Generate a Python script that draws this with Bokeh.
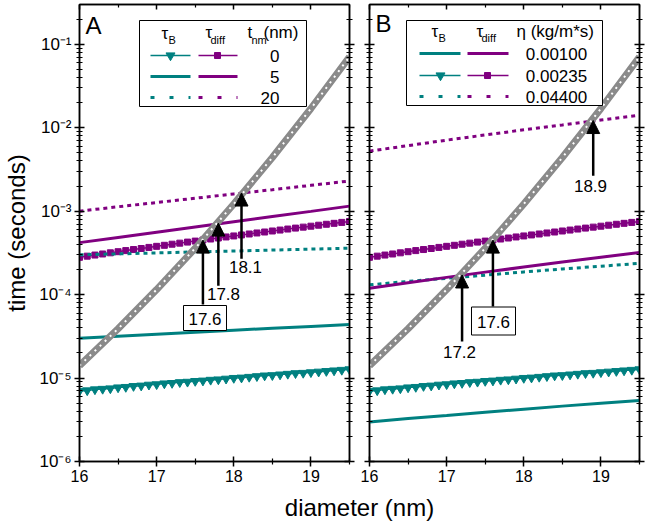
from bokeh.plotting import figure
from bokeh.layouts import row, column
from bokeh.models import (Range1d, LinearScale, LogAxis, LinearAxis, FixedTicker,
                          CustomJSTickFormatter, Arrow, NormalHead, ColumnDataSource)
from bokeh.core.properties import value
from bokeh.embed import file_html
from bokeh.resources import INLINE

FONT = "Liberation Sans"
TEAL = "#008080"
PURPLE = "#800080"
GRAY = "#8a8a8a"

# ---------------- data ----------------
d_fine = [16.0, 16.1, 16.2, 16.3, 16.4, 16.5, 16.6, 16.7, 16.8, 16.9,
          17.0, 17.1, 17.2, 17.3, 17.4, 17.5, 17.6, 17.7, 17.8, 17.9,
          18.0, 18.1, 18.2, 18.3, 18.4, 18.5, 18.6, 18.7, 18.8, 18.9,
          19.0, 19.1, 19.2, 19.3, 19.4, 19.5]
# tau_B, t = 0 nm / eta = 0.00235 (triangles)
tauB_0 = [7.0e-6, 7.1e-6, 7.3e-6, 7.4e-6, 7.5e-6, 7.7e-6, 7.8e-6, 8.0e-6, 8.1e-6, 8.3e-6,
          8.4e-6, 8.6e-6, 8.7e-6, 8.9e-6, 9.0e-6, 9.2e-6, 9.3e-6, 9.5e-6, 9.6e-6, 9.8e-6,
          1.00e-5, 1.01e-5, 1.03e-5, 1.05e-5, 1.07e-5, 1.08e-5, 1.10e-5, 1.12e-5, 1.14e-5, 1.15e-5,
          1.17e-5, 1.19e-5, 1.21e-5, 1.23e-5, 1.25e-5, 1.27e-5]
# tau_diff, t = 0 nm / eta = 0.00235 (squares)
tauD_0 = [2.80e-4, 2.89e-4, 2.98e-4, 3.07e-4, 3.17e-4, 3.27e-4, 3.37e-4, 3.47e-4, 3.57e-4, 3.68e-4,
          3.79e-4, 3.90e-4, 4.02e-4, 4.14e-4, 4.26e-4, 4.38e-4, 4.51e-4, 4.64e-4, 4.77e-4, 4.91e-4,
          5.05e-4, 5.19e-4, 5.33e-4, 5.48e-4, 5.63e-4, 5.79e-4, 5.94e-4, 6.11e-4, 6.27e-4, 6.44e-4,
          6.61e-4, 6.79e-4, 6.97e-4, 7.15e-4, 7.34e-4, 7.53e-4]

d = [16.0, 16.5, 17.0, 17.5, 18.0, 18.5, 19.0, 19.5]
tauN = [1.41e-5, 3.9e-5, 1.15e-4, 3.6e-4, 1.22e-3, 4.4e-3, 1.7e-2, 7.1e-2]   # grey curve
# panel A
tauB_t5 = [3.00e-5, 3.18e-5, 3.36e-5, 3.55e-5, 3.75e-5, 3.95e-5, 4.16e-5, 4.38e-5]
tauB_t20 = [3.00e-4, 3.08e-4, 3.16e-4, 3.25e-4, 3.33e-4, 3.42e-4, 3.51e-4, 3.60e-4]
tauD_t5 = [4.20e-4, 4.85e-4, 5.60e-4, 6.46e-4, 7.46e-4, 8.62e-4, 9.95e-4, 1.15e-3]
tauD_t20 = [1.00e-3, 1.13e-3, 1.27e-3, 1.43e-3, 1.61e-3, 1.81e-3, 2.04e-3, 2.30e-3]
# panel B
tauB_e1 = [2.98e-6, 3.27e-6, 3.57e-6, 3.90e-6, 4.24e-6, 4.61e-6, 4.99e-6, 5.39e-6]
tauB_e3 = [1.31e-4, 1.44e-4, 1.57e-4, 1.71e-4, 1.87e-4, 2.03e-4, 2.19e-4, 2.37e-4]
tauD_e1 = [1.19e-4, 1.39e-4, 1.61e-4, 1.86e-4, 2.14e-4, 2.46e-4, 2.81e-4, 3.20e-4]
tauD_e3 = [5.24e-3, 6.11e-3, 7.10e-3, 8.20e-3, 9.44e-3, 1.08e-2, 1.24e-2, 1.41e-2]

x_ticks = [16, 17, 18, 19]
x_minor = [16.5, 17.5, 18.5, 19.5]
y_ticks = [1e-6, 1e-5, 1e-4, 1e-3, 1e-2, 1e-1]
y_minor = [m * t for t in y_ticks for m in range(2, 10) if m * t <= 0.3]

t_labels = ["0", "5", "20"]
eta_labels = ["0.00100", "0.00235", "0.04400"]

# crossing annotations
crossA = [17.6, 17.8, 18.1]
crossA_tip = [4.5e-4, 7.2e-4, 1.65e-3]
crossA_tail = [7.6e-5, 1.28e-4, 2.7e-4]
crossB = [17.2, 17.6, 18.9]
crossB_tip = [1.72e-4, 4.5e-4, 1.22e-2]
crossB_tail = [2.75e-5, 7.2e-5, 2.65e-3]

SUP_CODE = """
const s = {'-':'\u207b','0':'\u2070','1':'\u00b9','2':'\u00b2','3':'\u00b3','4':'\u2074',
           '5':'\u2075','6':'\u2076','7':'\u2077','8':'\u2078','9':'\u2079'};
const e = Math.round(Math.log10(tick));
return '10' + String(e).split('').map(c => s[c]).join('');
"""


def style_axis(ax, labels=True, tick_out=True):
    ax.axis_line_width = 1.5
    ax.axis_line_color = "black"
    ax.major_tick_line_width = 1.5
    ax.minor_tick_line_width = 1.2
    ax.major_tick_line_color = "black"
    ax.minor_tick_line_color = "black"
    ax.major_tick_in = 5
    ax.major_tick_out = 5 if tick_out else 0
    ax.minor_tick_in = 3
    ax.minor_tick_out = 3 if tick_out else 0
    ax.major_label_text_font = FONT
    ax.major_label_text_color = "black"
    ax.major_label_text_font_size = "16px"
    if labels:
        ax.major_label_standoff = 3
    else:
        ax.formatter = CustomJSTickFormatter(code="return '';")
        ax.major_label_standoff = 0


def make_fig(min_left, min_right, px_lo, px_hi, ylabels):
    p = figure(frame_width=270, frame_height=457,
               x_range=Range1d(16, 19.5), y_range=Range1d(1e-6, 0.3),
               y_axis_type="log", output_backend="svg", toolbar_location=None,
               min_border_left=min_left, min_border_right=min_right,
               min_border_top=4, min_border_bottom=30,
               background_fill_color="white", border_fill_color="white",
               outline_line_color="black", outline_line_width=1.5)
    p.grid.visible = False
    p.extra_x_ranges = {"px": Range1d(px_lo, px_hi)}
    p.extra_y_ranges = {"py": Range1d(463, 6)}
    p.extra_x_scales = {"px": LinearScale()}
    p.extra_y_scales = {"py": LinearScale()}

    xb = p.xaxis[0]
    xb.ticker = FixedTicker(ticks=x_ticks, minor_ticks=x_minor)
    style_axis(xb, True)
    yl = p.yaxis[0]
    yl.ticker = FixedTicker(ticks=y_ticks, minor_ticks=y_minor)
    if ylabels:
        yl.formatter = CustomJSTickFormatter(code=SUP_CODE)
        style_axis(yl, True)
        yl.major_label_text_font_size = "17px"
        yl.axis_label = "time (seconds)"
        yl.axis_label_text_font = FONT
        yl.axis_label_text_font_size = "24px"
        yl.axis_label_text_font_style = "normal"
        yl.axis_label_text_color = "black"
        yl.axis_label_standoff = 6
    else:
        style_axis(yl, False)

    yr = LogAxis(ticker=FixedTicker(ticks=y_ticks, minor_ticks=y_minor))
    style_axis(yr, False)
    p.add_layout(yr, "right")
    xt = LinearAxis(ticker=FixedTicker(ticks=x_ticks, minor_ticks=x_minor))
    style_axis(xt, False, tick_out=False)
    p.add_layout(xt, "above")
    return p


def txt(p, x, y, s, size="17px", align="left"):
    p.text(x=[x], y=[y], text=[s], text_font=value(FONT), text_font_size=size,
           text_align=align, text_baseline="middle", text_color="black",
           x_range_name="px", y_range_name="py")


def seg(p, x0, x1, y, color, width, dash="solid"):
    p.line([x0, x1], [y, y], line_color=color, line_width=width, line_dash=dash,
           x_range_name="px", y_range_name="py")


def grey_curve(p):
    p.line(d, tauN, line_color=GRAY, line_width=7)
    p.line(d, tauN, line_color="white", line_width=2, line_dash="2 5")


def marker_series(p):
    p.line(d_fine, tauB_0, line_color=TEAL, line_width=1.5)
    p.scatter(d_fine, tauB_0, marker="inverted_triangle", size=9,
              fill_color=TEAL, line_color=TEAL)
    p.line(d_fine, tauD_0, line_color=PURPLE, line_width=1.5)
    p.scatter(d_fine, tauD_0, marker="square", size=6, fill_color=PURPLE, line_color=PURPLE)


def arrows(p, xs, tips, tails):
    src = ColumnDataSource(dict(x=xs, y0=tails, y1=tips))
    p.add_layout(Arrow(end=NormalHead(size=13, fill_color="black", line_color="black"),
                       x_start="x", y_start="y0", x_end="x", y_end="y1", source=src,
                       line_width=2.5, line_color="black"))


# ---------------- panel A ----------------
pA = make_fig(79, 10, 81, 351, True)
marker_series(pA)
pA.line(d, tauB_t5, line_color=TEAL, line_width=3)
pA.line(d, tauB_t20, line_color=TEAL, line_width=3, line_dash="4 4")
pA.line(d, tauD_t5, line_color=PURPLE, line_width=3)
pA.line(d, tauD_t20, line_color=PURPLE, line_width=3, line_dash="4 4")
grey_curve(pA)
arrows(pA, crossA, crossA_tip, crossA_tail)
pA.rect(x=[206.5], y=[319.5], width=43, height=25, fill_color="white", line_color="black",
        line_width=1, x_range_name="px", y_range_name="py")
txt(pA, 206.5, 320, "%.1f" % crossA[0], "17px", "center")
txt(pA, 225, 295, "%.1f" % crossA[1], "17px", "center")
txt(pA, 247, 268, "%.1f" % crossA[2], "17px", "center")
txt(pA, 95, 27, "A", "24px", "center")

# legend A
pA.quad(left=[141], right=[308], top=[22], bottom=[108], fill_color="white",
        line_color="black", line_width=1, x_range_name="px", y_range_name="py")
txt(pA, 163, 35, "\u03c4", "17px")
txt(pA, 170, 41, "B", "11px")
txt(pA, 207, 34, "\u03c4", "17px")
txt(pA, 212, 41, "diff", "11px")
txt(pA, 249, 34, "t", "17px")
txt(pA, 253, 41, "nm", "11px")
txt(pA, 265, 34, "(nm)", "17px")
rowsA = [57, 78, 99]
seg(pA, 152, 192, rowsA[0], TEAL, 1.5)
pA.scatter([172], [rowsA[0]], marker="inverted_triangle", size=9, color=TEAL,
           x_range_name="px", y_range_name="py")
seg(pA, 200, 239, rowsA[0], PURPLE, 1.5)
pA.scatter([219], [rowsA[0]], marker="square", size=6, color=PURPLE,
           x_range_name="px", y_range_name="py")
seg(pA, 152, 192, rowsA[1], TEAL, 3)
seg(pA, 200, 239, rowsA[1], PURPLE, 3)
seg(pA, 152, 192, rowsA[2], TEAL, 3, "4 15")
seg(pA, 200, 239, rowsA[2], PURPLE, 3, "4 15")
for yy, lab in zip(rowsA, t_labels):
    txt(pA, 281, yy, lab, "17px", "right")

# ---------------- panel B ----------------
pB = make_fig(10, 12, 371, 641, False)
marker_series(pB)
pB.line(d, tauB_e1, line_color=TEAL, line_width=3)
pB.line(d, tauB_e3, line_color=TEAL, line_width=3, line_dash="4 4")
pB.line(d, tauD_e1, line_color=PURPLE, line_width=3)
pB.line(d, tauD_e3, line_color=PURPLE, line_width=3, line_dash="4 4")
grey_curve(pB)
arrows(pB, crossB, crossB_tip, crossB_tail)
pB.rect(x=[495], y=[322.5], width=44, height=28, fill_color="white", line_color="black",
        line_width=1, x_range_name="px", y_range_name="py")
txt(pB, 461, 353, "%.1f" % crossB[0], "17px", "center")
txt(pB, 495, 323, "%.1f" % crossB[1], "17px", "center")
txt(pB, 592, 187, "%.1f" % crossB[2], "17px", "center")
txt(pB, 385, 25, "B", "24px", "center")

# legend B
pB.quad(left=[408], right=[604], top=[22], bottom=[107], fill_color="white",
        line_color="black", line_width=1, x_range_name="px", y_range_name="py")
txt(pB, 433, 33, "\u03c4", "17px")
txt(pB, 440, 39, "B", "11px")
txt(pB, 478, 33, "\u03c4", "17px")
txt(pB, 483, 39, "diff", "11px")
txt(pB, 518, 33, "\u03b7 (kg/m*s)", "17px")
rowsB = [55, 77, 98]
seg(pB, 421, 462, rowsB[0], TEAL, 3)
seg(pB, 469, 510, rowsB[0], PURPLE, 3)
seg(pB, 421, 462, rowsB[1], TEAL, 1.5)
pB.scatter([442], [rowsB[1]], marker="inverted_triangle", size=9, color=TEAL,
           x_range_name="px", y_range_name="py")
seg(pB, 469, 510, rowsB[1], PURPLE, 1.5)
pB.scatter([489], [rowsB[1]], marker="square", size=6, color=PURPLE,
           x_range_name="px", y_range_name="py")
seg(pB, 421, 462, rowsB[2], TEAL, 3, "4 15")
seg(pB, 469, 510, rowsB[2], PURPLE, 3, "4 15")
for yy, lab in zip(rowsB, eta_labels):
    txt(pB, 558, yy, lab, "17px", "center")

# ---------------- shared x-axis title ----------------
pC = figure(width=651, height=32, x_range=Range1d(0, 651), y_range=Range1d(32, 0),
            x_axis_type=None, y_axis_type=None, toolbar_location=None,
            output_backend="svg", min_border_left=0, min_border_right=0,
            min_border_top=0, min_border_bottom=0, outline_line_color=None)
pC.grid.visible = False
pC.text(x=[359], y=[16], text=["diameter (nm)"], text_font=value(FONT),
        text_font_size="24px", text_align="center", text_baseline="middle",
        text_color="black")

layout = column(row(pA, pB), pC)
open("out.html", "w").write(file_html(layout, INLINE))
